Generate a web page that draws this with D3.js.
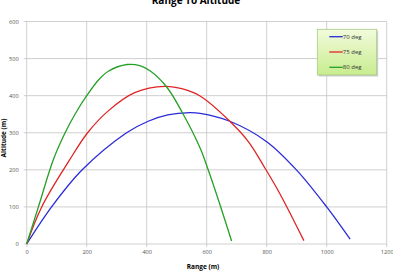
<!DOCTYPE html>
<html>
<head>
<meta charset="utf-8">
<script src="https://cdn.jsdelivr.net/npm/d3@7"></script>
<style>
body { margin: 0; background: #fff; }
text { font-family: "Open Sans", "Liberation Sans", sans-serif; }
</style>
</head>
<body>
<svg id="chart"></svg>
<script>
const svgWidth = 393, svgHeight = 271;
const margin = {top: 21.5, right: 6.3, bottom: 27, left: 26.7},
    width = svgWidth - margin.left - margin.right,
    height = svgHeight - margin.top - margin.bottom;

// series: [range, altitude]
const seriesNames = ["70 deg", "75 deg", "80 deg"];
const colors = ["#2a2ad8", "#e02424", "#25a025"];

const deg70 = [[0,0],[83,100],[185,200],[333,300],[405,331],[470,348],[544,354],
    [578,352],[677,331],[800,276],[899,200],[1000,100],[1078,13]];
const deg75 = [[0,0],[50,100],[144,228],[203,300],[272,359],[360,408],[461,425],[520,418],
    [578,399],[677,331],[740,275],[794,205],[843,137],[924,9]];
const deg80 = [[0,0],[39,100],[89,228],[128,300],[161,350],[200,400],[240,443],[272,466],[335,484],
    [377,481],[411,467],[466,424],[519,354],[578,259],[605,200],[647,99],[683,8]];
const allSeries = [deg70, deg75, deg80];

const xTicks = [0, 200, 400, 600, 800, 1000, 1200];
const yTicks = [0, 100, 200, 300, 400, 500, 600];

const chart = d3.select("#chart")
    .attr("width", svgWidth)
    .attr("height", svgHeight);

const g = chart.append("g")
    .attr("transform", `translate(${margin.left},${margin.top})`);

var xScale = d3.scaleLinear().domain([0, 1200]).range([0, width]);
var yScale = d3.scaleLinear().domain([0, 600]).range([height, 0]);

// grid
g.append("g").selectAll("line").data(xTicks).join("line")
    .attr("x1", d => xScale(d)).attr("x2", d => xScale(d))
    .attr("y1", 0).attr("y2", height + 3)
    .attr("stroke", "#c4c4c4").attr("stroke-width", 0.8);
g.append("g").selectAll("line").data(yTicks).join("line")
    .attr("x1", -3).attr("x2", width)
    .attr("y1", d => yScale(d)).attr("y2", d => yScale(d))
    .attr("stroke", "#c4c4c4").attr("stroke-width", 0.8);

// axes (labels only, lines come from the grid)
var xAxis = d3.axisBottom(xScale).tickValues(xTicks).tickFormat(d3.format("d")).tickSize(0).tickPadding(6);
var yAxis = d3.axisLeft(yScale).tickValues(yTicks).tickFormat(d3.format("d")).tickSize(0).tickPadding(8);

g.append("g").attr("transform", `translate(0,${height})`).call(xAxis)
    .call(a => a.select(".domain").remove())
    .selectAll("text").attr("font-size", 5.6).attr("fill", "#555");
g.append("g").call(yAxis)
    .call(a => a.select(".domain").remove())
    .selectAll("text").attr("font-size", 5.6).attr("fill", "#555");

var valueline = d3.line()
    .x(d => xScale(d[0]))
    .y(d => yScale(d[1]))
    .curve(d3.curveCatmullRom.alpha(0.5));

g.append("g").selectAll("path").data(allSeries).join("path")
    .attr("d", valueline)
    .attr("fill", "none")
    .attr("stroke", (d, i) => colors[i])
    .attr("stroke-width", 1.3);

// titles
chart.append("text")
    .attr("x", 196).attr("y", 4)
    .attr("text-anchor", "middle")
    .attr("font-size", 10).attr("font-weight", "bold")
    .attr("fill", "#000")
    .text("Range To Altitude");

chart.append("text")
    .attr("x", 203).attr("y", 269)
    .attr("text-anchor", "middle")
    .attr("font-size", 6.5).attr("font-weight", "bold")
    .attr("fill", "#000")
    .text("Range (m)");

chart.append("text")
    .attr("transform", "translate(5.5,138) rotate(-90)")
    .attr("text-anchor", "middle")
    .attr("font-size", 6.5).attr("font-weight", "bold")
    .attr("fill", "#000")
    .text("Altitude (m)");

// legend
const defs = chart.append("defs");
const grad = defs.append("linearGradient").attr("id", "lg")
    .attr("x1", 0).attr("y1", 0).attr("x2", 0).attr("y2", 1);
grad.append("stop").attr("offset", "0%").attr("stop-color", "#f2fbdc");
grad.append("stop").attr("offset", "100%").attr("stop-color", "#c8ec8e");

const legend = chart.append("g").attr("transform", "translate(317.3,29.3)");
legend.append("rect")
    .attr("x", 1.5).attr("y", 1.5).attr("width", 59.4).attr("height", 45.7)
    .attr("fill", "#cfcfcf");
legend.append("rect")
    .attr("width", 59.4).attr("height", 45.7)
    .attr("fill", "url(#lg)")
    .attr("stroke", "#a9c98a").attr("stroke-width", 0.8);

const items = legend.selectAll(".item").data(seriesNames).join("g")
    .attr("class", "item")
    .attr("transform", (d, i) => `translate(0,${7.4 + i * 15.3})`);
items.append("line")
    .attr("x1", 12).attr("x2", 25.5)
    .attr("stroke", (d, i) => colors[i]).attr("stroke-width", 1.3);
items.append("text")
    .attr("x", 25.5).attr("y", 2)
    .attr("font-size", 6).attr("fill", "#333")
    .text(d => d);
</script>
</body>
</html>
